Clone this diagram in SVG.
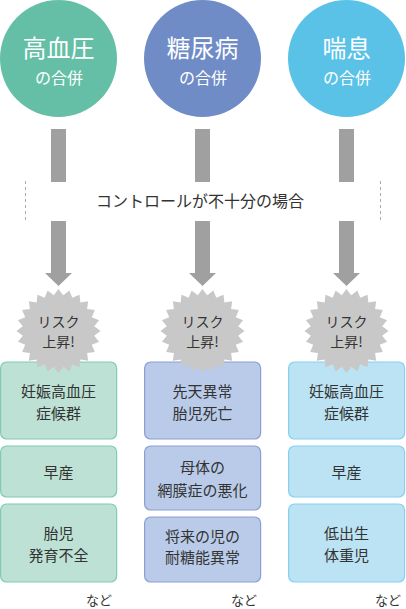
<svg xmlns="http://www.w3.org/2000/svg" xmlns:xlink="http://www.w3.org/1999/xlink" width="406" height="609" viewBox="0 0 406 609">
<style>
text{font-family:"Noto Sans CJK JP","Noto Sans",sans-serif;text-anchor:middle}
.ct1{fill:#fff;font-size:24px}
.ct2{fill:#fff;font-size:16px}
.bt{fill:#333;font-size:15px}
.st{fill:#333;font-size:14px}
.bar{fill:#a0a0a0}
.g{fill:#bde1d4;stroke:#80cbb1;stroke-width:1.2}
.b{fill:#b9cbe9;stroke:#8b9fd4;stroke-width:1.2}
.c{fill:#bce3f4;stroke:#86d0ee;stroke-width:1.2}
.dash{stroke:#aaa;stroke-width:1;stroke-dasharray:3 3;fill:none}
</style>
<defs>
<polygon id="star" fill="#c8c8c8" points="42,0 35.69,4.70 40.57,10.87 33.26,13.78 36.37,21 28.56,21.92 29.70,29.70 21.92,28.56 21,36.37 13.78,33.26 10.87,40.57 4.70,35.69 0,42 -4.70,35.69 -10.87,40.57 -13.78,33.26 -21,36.37 -21.92,28.56 -29.70,29.70 -28.56,21.92 -36.37,21 -33.26,13.78 -40.57,10.87 -35.69,4.70 -42,0 -35.69,-4.70 -40.57,-10.87 -33.26,-13.78 -36.37,-21 -28.56,-21.92 -29.70,-29.70 -21.92,-28.56 -21,-36.37 -13.78,-33.26 -10.87,-40.57 -4.70,-35.69 0,-42 4.70,-35.69 10.87,-40.57 13.78,-33.26 21,-36.37 21.92,-28.56 29.70,-29.70 28.56,-21.92 36.37,-21 33.26,-13.78 40.57,-10.87 35.69,-4.70"/>
<path id="arrow" class="bar" d="M-7.5,0 H7.5 V52 H13.5 L0,65 L-13.5,52 H-7.5 Z"/>
</defs>

<g id="connectors">
<rect class="bar" x="51" y="129" width="15" height="53"/>
<rect class="bar" x="195" y="129" width="15" height="53"/>
<rect class="bar" x="339" y="129" width="15" height="53"/>
<use xlink:href="#arrow" x="58.5" y="221"/>
<use xlink:href="#arrow" x="202.5" y="221"/>
<use xlink:href="#arrow" x="346.5" y="221"/>
</g>

<g id="condition">
<line class="dash" x1="25.5" y1="181" x2="25.5" y2="221"/>
<line class="dash" x1="380.5" y1="181" x2="380.5" y2="221"/>
<text x="200" y="207" style="fill:#333;font-size:16px">コントロールが不十分の場合</text>
</g>

<g id="circle-hypertension">
<circle cx="58.5" cy="58.5" r="58.5" fill="#65bfa6"/>
<text class="ct1" x="58.5" y="57">高血圧</text>
<text class="ct2" x="59" y="84">の合併</text>
</g>
<g id="circle-diabetes">
<circle cx="202.5" cy="58.5" r="58.5" fill="#6f8cc7"/>
<text class="ct1" x="202.5" y="57">糖尿病</text>
<text class="ct2" x="203" y="84">の合併</text>
</g>
<g id="circle-asthma">
<circle cx="346.5" cy="58.5" r="58.5" fill="#5bc2e7"/>
<text class="ct1" x="346.5" y="57">喘息</text>
<text class="ct2" x="347" y="84">の合併</text>
</g>

<g id="col1-box1"><rect class="g" x="0.6" y="362" width="116" height="77" rx="6"/><text class="bt" x="58.5" y="397">妊娠高血圧</text><text class="bt" x="58.5" y="419">症候群</text></g>
<g id="col1-box2"><rect class="g" x="0.6" y="446" width="116" height="51" rx="6"/><text class="bt" x="58.5" y="478">早産</text></g>
<g id="col1-box3"><rect class="g" x="0.6" y="504" width="116" height="78" rx="6"/><text class="bt" x="58.5" y="539">胎児</text><text class="bt" x="58.5" y="561">発育不全</text></g>

<g id="col2-box1"><rect class="b" x="144.6" y="362" width="116" height="77" rx="6"/><text class="bt" x="202.5" y="397">先天異常</text><text class="bt" x="202.5" y="419">胎児死亡</text></g>
<g id="col2-box2"><rect class="b" x="144.6" y="446" width="116" height="64" rx="6"/><text class="bt" x="202.5" y="473">母体の</text><text class="bt" x="202.5" y="496">網膜症の悪化</text></g>
<g id="col2-box3"><rect class="b" x="144.6" y="517" width="116" height="65" rx="6"/><text class="bt" x="202.5" y="542">将来の児の</text><text class="bt" x="202.5" y="563">耐糖能異常</text></g>

<g id="col3-box1"><rect class="c" x="288.6" y="362" width="116" height="77" rx="6"/><text class="bt" x="346.5" y="397">妊娠高血圧</text><text class="bt" x="346.5" y="419">症候群</text></g>
<g id="col3-box2"><rect class="c" x="288.6" y="446" width="116" height="51" rx="6"/><text class="bt" x="346.5" y="478">早産</text></g>
<g id="col3-box3"><rect class="c" x="288.6" y="504" width="116" height="78" rx="6"/><text class="bt" x="346.5" y="539">低出生</text><text class="bt" x="346.5" y="561">体重児</text></g>

<g id="star1"><use xlink:href="#star" x="58.5" y="331"/><text class="st" x="58.5" y="327">リスク</text><text class="st" x="58.5" y="347">上昇!</text></g>
<g id="star2"><use xlink:href="#star" x="202.5" y="331"/><text class="st" x="202.5" y="327">リスク</text><text class="st" x="202.5" y="347">上昇!</text></g>
<g id="star3"><use xlink:href="#star" x="346.5" y="331"/><text class="st" x="346.5" y="327">リスク</text><text class="st" x="346.5" y="347">上昇!</text></g>

<g id="notes">
<text class="bt" x="99" y="605" style="font-size:13px">など</text>
<text class="bt" x="244" y="605" style="font-size:13px">など</text>
<text class="bt" x="388" y="605" style="font-size:13px">など</text>
</g>
</svg>
